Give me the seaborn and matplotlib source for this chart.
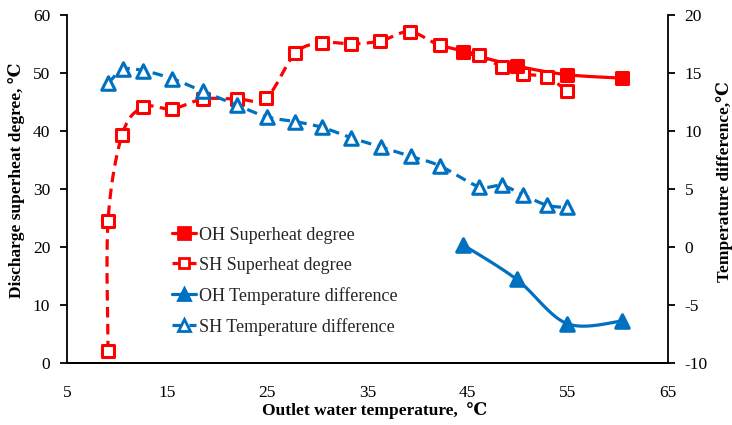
import numpy as np
import pandas as pd
import matplotlib
matplotlib.use("Agg")
import matplotlib.pyplot as plt
from matplotlib.lines import Line2D
import seaborn as sns

# Outlet water temperature (°C) and measured values
sh_sup_x = [9.1, 9.1, 10.5, 12.6, 15.5, 18.6, 22.0, 24.9, 27.8, 30.5, 33.4, 36.3, 39.2, 42.2, 46.1, 48.4, 50.5, 52.9, 54.9]
sh_sup_y = [2.0, 24.5, 39.3, 44.1, 43.8, 45.5, 45.5, 45.7, 53.4, 55.2, 55.0, 55.5, 57.1, 54.8, 53.1, 51.0, 49.8, 49.3, 46.9]

oh_sup_x = [44.5, 49.9, 54.9, 60.4]
oh_sup_y = [53.6, 51.2, 49.7, 49.1]

sh_td_x = [9.1, 10.6, 12.6, 15.5, 18.6, 22.0, 25.0, 27.8, 30.5, 33.4, 36.4, 39.3, 42.2, 46.1, 48.4, 50.5, 52.9, 54.9]
sh_td_y = [14.1, 15.3, 15.2, 14.5, 13.4, 12.2, 11.2, 10.8, 10.3, 9.4, 8.6, 7.8, 7.0, 5.2, 5.3, 4.5, 3.6, 3.4]

oh_td_x = [44.5, 49.9, 54.9, 60.4]
oh_td_y = [0.2, -2.8, -6.6, -6.4]

x_ticks = [5, 15, 25, 35, 45, 55, 65]
left_ticks = [0, 10, 20, 30, 40, 50, 60]
right_ticks = [-10, -5, 0, 5, 10, 15, 20]

RED = "#FF0000"
BLUE = "#0070C0"

sns.set_theme(style="white")
plt.rcParams["font.family"] = ["Liberation Serif", "DejaVu Serif"]
plt.rcParams["axes.unicode_minus"] = False

fig = plt.figure(figsize=(7.32, 4.25), dpi=100)
ax = fig.add_axes([0.0915, 0.146, 0.821, 0.819])
ax2 = ax.twinx()

ax.set_xlim(5, 65)
ax.set_ylim(0, 60)
ax2.set_ylim(-10, 20)


def smooth(axis, xs, ys, n=30):
    """Catmull-Rom curve through the points, computed in display space."""
    pts = axis.transData.transform(np.column_stack([xs, ys]))
    p = np.vstack([pts[0], pts, pts[-1]])
    out = []
    for i in range(1, len(p) - 2):
        p0, p1, p2, p3 = p[i - 1], p[i], p[i + 1], p[i + 2]
        c1 = p1 + (p2 - p0) / 6.0
        c2 = p2 - (p3 - p1) / 6.0
        t = np.linspace(0, 1, n)[:, None]
        seg = ((1 - t) ** 3) * p1 + 3 * ((1 - t) ** 2) * t * c1 + 3 * (1 - t) * t ** 2 * c2 + t ** 3 * p2
        out.append(seg if i == 1 else seg[1:])
    curve = axis.transData.inverted().transform(np.vstack(out))
    return pd.DataFrame({"x": curve[:, 0], "y": curve[:, 1]})


DASH = (3.3, 2.0)
LW = 2.3

series = [
    (ax, sh_sup_x, sh_sup_y, RED, "s", "white", True),
    (ax, oh_sup_x, oh_sup_y, RED, "s", RED, False),
    (ax2, sh_td_x, sh_td_y, BLUE, "^", "white", True),
    (ax2, oh_td_x, oh_td_y, BLUE, "^", BLUE, False),
]

for axis, xs, ys, col, mk, fc, dashed in series:
    curve = smooth(axis, xs, ys)
    sns.lineplot(data=curve, x="x", y="y", ax=axis, sort=False, estimator=None,
                 color=col, lw=LW, dashes=False, legend=False)
    line = axis.get_lines()[-1]
    if dashed:
        line.set_dashes(DASH)
    pts = pd.DataFrame({"x": xs, "y": ys})
    ms = 75 if mk == "s" else 95
    sns.scatterplot(data=pts, x="x", y="y", ax=axis, marker=mk, s=ms,
                    facecolor=fc, edgecolor=col, linewidth=2.2, zorder=5, legend=False)

ax.set_xticks(x_ticks)
ax.set_yticks(left_ticks)
ax2.set_yticks(right_ticks)

for a in (ax, ax2):
    for s in a.spines.values():
        s.set_color("black")
        s.set_linewidth(1.3)
    a.spines["top"].set_visible(False)
    a.tick_params(axis="both", which="major", direction="out", length=5, width=1.3,
                  colors="black", labelsize=12.5, pad=7)
ax.tick_params(axis="x", pad=11)
ax2.spines["left"].set_visible(False)
ax.spines["right"].set_visible(False)

lab_font = dict(fontsize=12.5, fontweight="bold", color="black")
ax.set_xlabel("Outlet water temperature,  ℃", **lab_font)
ax.set_ylabel("Discharge superheat degree, ℃", **lab_font)
ax2.set_ylabel("Temperature difference,℃", **lab_font)
ax.xaxis.set_label_coords(0.512, -0.112)
ax.yaxis.set_label_coords(-0.07, 0.526)
ax2.yaxis.set_label_coords(1.08, 0.52)

handles = [
    Line2D([], [], color=RED, lw=LW, marker="s", ms=8, mfc=RED, mec=RED, mew=2),
    Line2D([], [], color=RED, lw=LW, ls=(0, DASH), marker="s", ms=7, mfc="white", mec=RED, mew=2),
    Line2D([], [], color=BLUE, lw=LW, marker="^", ms=9, mfc=BLUE, mec=BLUE, mew=2),
    Line2D([], [], color=BLUE, lw=LW, ls=(0, DASH), marker="^", ms=8, mfc="white", mec=BLUE, mew=2),
]
labels = ["OH Superheat degree", "SH Superheat degree",
          "OH Temperature difference", "SH Temperature difference"]
ax2.legend(handles, labels, loc="upper left", bbox_to_anchor=(0.163, 0.412),
           frameon=False, fontsize=13, handlelength=1.3, handletextpad=0.17,
           labelspacing=0.72, borderaxespad=0)

fig.savefig("out.png", dpi=100)
